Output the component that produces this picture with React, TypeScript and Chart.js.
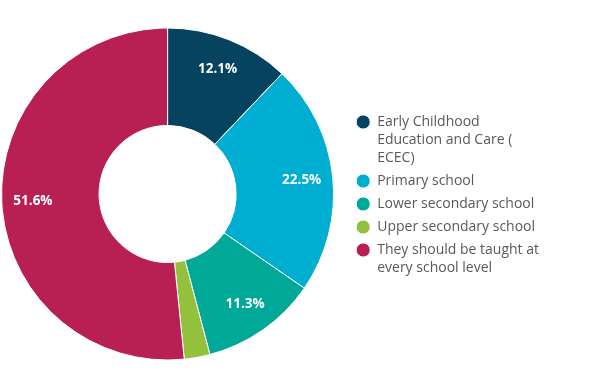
import { useEffect, useRef } from 'react';
import { Chart, registerables } from 'chart.js';

Chart.register(...registerables);

const categories: string[][] = [
  ['Early Childhood', 'Education and Care (', 'ECEC)'],
  ['Primary school'],
  ['Lower secondary school'],
  ['Upper secondary school'],
  ['They should be taught at', 'every school level'],
];
const values = [12.1, 22.5, 11.3, 2.5, 51.6];
const colors = ['#06435f', '#00aed1', '#00a997', '#93c13e', '#b81f52'];
const labelMin = 5;

const sliceLabels = {
  id: 'sliceLabels',
  afterDatasetsDraw(chart: any) {
    const ctx = chart.ctx;
    const meta = chart.getDatasetMeta(0);
    ctx.save();
    ctx.fillStyle = '#ffffff';
    ctx.font = "bold 13.5px 'Open Sans', sans-serif";
    ctx.textAlign = 'center';
    ctx.textBaseline = 'middle';
    meta.data.forEach((arc: any, i: number) => {
      const v = values[i];
      if (v < labelMin) return;
      const p = arc.getProps(['x', 'y', 'startAngle', 'endAngle', 'innerRadius', 'outerRadius'], true);
      const mid = (p.startAngle + p.endAngle) / 2;
      const r = p.innerRadius + (p.outerRadius - p.innerRadius) * 0.68;
      ctx.fillText(v.toFixed(1) + '%', p.x + Math.cos(mid) * r, p.y + Math.sin(mid) * r);
    });
    ctx.restore();
  },
};

const legendShift = {
  id: 'legendShift',
  afterLayout(chart: any) {
    const l = chart.legend;
    if (l) {
      l.left += 16;
      l.right += 16;
      l.top += 6;
      l.bottom += 0;
    }
  },
};

export default function App() {
  const ref = useRef<HTMLCanvasElement>(null);
  useEffect(() => {
    if (!ref.current) return;
    Chart.defaults.font.family = "'Open Sans', sans-serif";
    const chart = new Chart(ref.current, {
      type: 'doughnut',
      data: {
        labels: categories as any,
        datasets: [
          {
            data: values,
            backgroundColor: colors,
            borderColor: '#ffffff',
            borderWidth: 1,
            radius: 166,
            cutout: 69,
          } as any,
        ],
      },
      options: {
        responsive: false,
        animation: false,
        layout: { padding: { top: 0, bottom: 2, left: 0, right: 66 } },
        plugins: {
          legend: {
            position: 'right',
            labels: {
              usePointStyle: true,
              pointStyle: 'circle',
              boxWidth: 14,
              boxHeight: 10,
              color: '#595959',
              padding: 5,
              font: { size: 14, lineHeight: '18px' as any },
            },
          },
          tooltip: { enabled: false },
        },
      },
      plugins: [sliceLabels, legendShift],
    });
    return () => chart.destroy();
  }, []);
  return (
    <div style={{ position: 'absolute', left: 0, top: 0, width: 599, height: 390, background: '#fff' }}>
      <canvas ref={ref} width={599} height={390} style={{ display: 'block' }} />
    </div>
  );
}
